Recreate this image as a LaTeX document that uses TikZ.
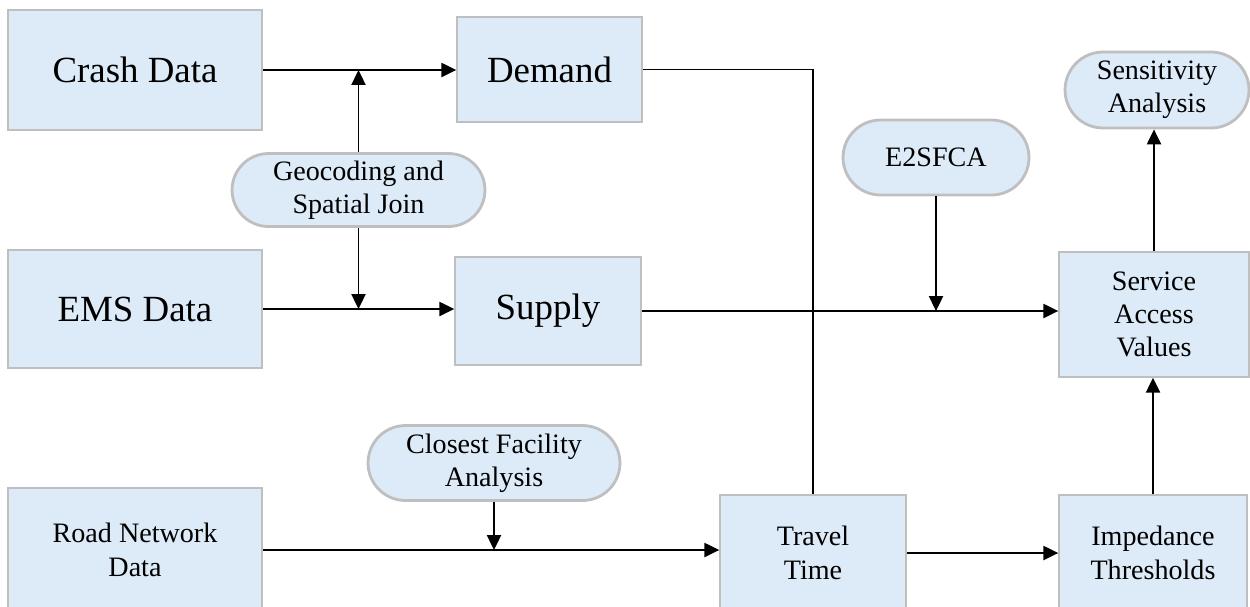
\documentclass[tikz,border=0pt]{standalone}
\usepackage{fontspec}
\setmainfont{Liberation Serif}
\usetikzlibrary{arrows.meta,shapes.misc}
\definecolor{cFill}{RGB}{221,234,247}
\definecolor{cEdge}{RGB}{191,191,191}
\tikzset{mybox/.style={
  shape=rectangle,
  draw=cEdge,
  fill=cFill,
  line width=0.8pt,
  align=center,
  inner sep=0pt,
  font=\fontsize{16}{19}\selectfont,
  }
}
\tikzset{mypill/.style={
  shape=rounded rectangle,
  draw=cEdge,
  fill=cFill,
  line width=1.6pt,
  align=center,
  inner sep=0pt,
  font=\fontsize{16}{19}\selectfont,
  }
}
\tikzset{myarrow/.style={
  draw=black,
  line width=1.1pt,
  -{Triangle[length=8.5pt,width=8pt]},
  }
}
\tikzset{bigtext/.style={font=\fontsize{21}{25}\selectfont}}

\begin{document}
\begin{tikzpicture}[x=0.02cm,y=-0.02cm]
      \useasboundingbox (0,0) rectangle (1250,606);
      \clip (0,0) rectangle (1250,606);

      \node [mybox, bigtext, minimum width=5.08cm, minimum height=2.4cm] (crash) at (135,70) {Crash Data};
      \node [mybox, bigtext, minimum width=3.7cm, minimum height=2.1cm] (dem) at (549.5,69.5) {Demand};
      \node [mybox, bigtext, minimum width=5.08cm, minimum height=2.36cm] (ems) at (135,309) {EMS Data};
      \node [mybox, bigtext, minimum width=3.72cm, minimum height=2.16cm] (sup) at (548,311) {Supply};
      \node [mybox, minimum width=5.08cm, minimum height=2.48cm] (road) at (135,550) {Road Network\\Data};
      \node [mybox, minimum width=3.72cm, minimum height=2.32cm] (trav) at (813,553) {Travel\\Time};
      \node [mybox, minimum width=3.76cm, minimum height=2.32cm] (imp) at (1153,553) {Impedance\\Thresholds};
      \node [mybox, minimum width=3.8cm, minimum height=2.5cm] (sav) at (1154,314.5) {Service\\Access\\Values};

      \node [mypill, minimum width=5.06cm, minimum height=1.46cm] (geo) at (358.5,190) {Geocoding and\\Spatial Join};
      \node [mypill, minimum width=3.72cm, minimum height=1.5cm] (e2) at (936,157.5) {E2SFCA};
      \node [mypill, minimum width=3.68cm, minimum height=1.52cm] (sens) at (1157,90) {Sensitivity\\Analysis};
      \node [mypill, minimum width=5.04cm, minimum height=1.5cm] (clos) at (494,463) {Closest Facility\\Analysis};

      % main flow
      \draw [myarrow] (crash.east) -- (crash.east -| dem.west);
      \draw [myarrow] (ems.east) -- (ems.east -| sup.west);
      \draw [myarrow] (sup.east) -- (sup.east -| sav.west);
      \draw [myarrow] (road.east) -- (road.east -| trav.west);
      \draw [myarrow] (trav.east) -- (trav.east -| imp.west);
      \draw [line width=1.1pt] (dem.east) -| (trav.north);

      % tools acting on the flow
      \draw [myarrow] (geo.north) -- (geo.north |- crash.east);
      \draw [myarrow] (geo.south) -- (geo.south |- ems.east);
      \draw [myarrow] (e2.south) -- (e2.south |- sup.east);
      \draw [myarrow] (clos.south) -- (clos.south |- road.east);

      \draw [myarrow] (imp.north) -- (imp.north |- sav.south);
      \draw [myarrow] (sav.north) -- (sav.north |- sens.south);
\end{tikzpicture}
\end{document}
